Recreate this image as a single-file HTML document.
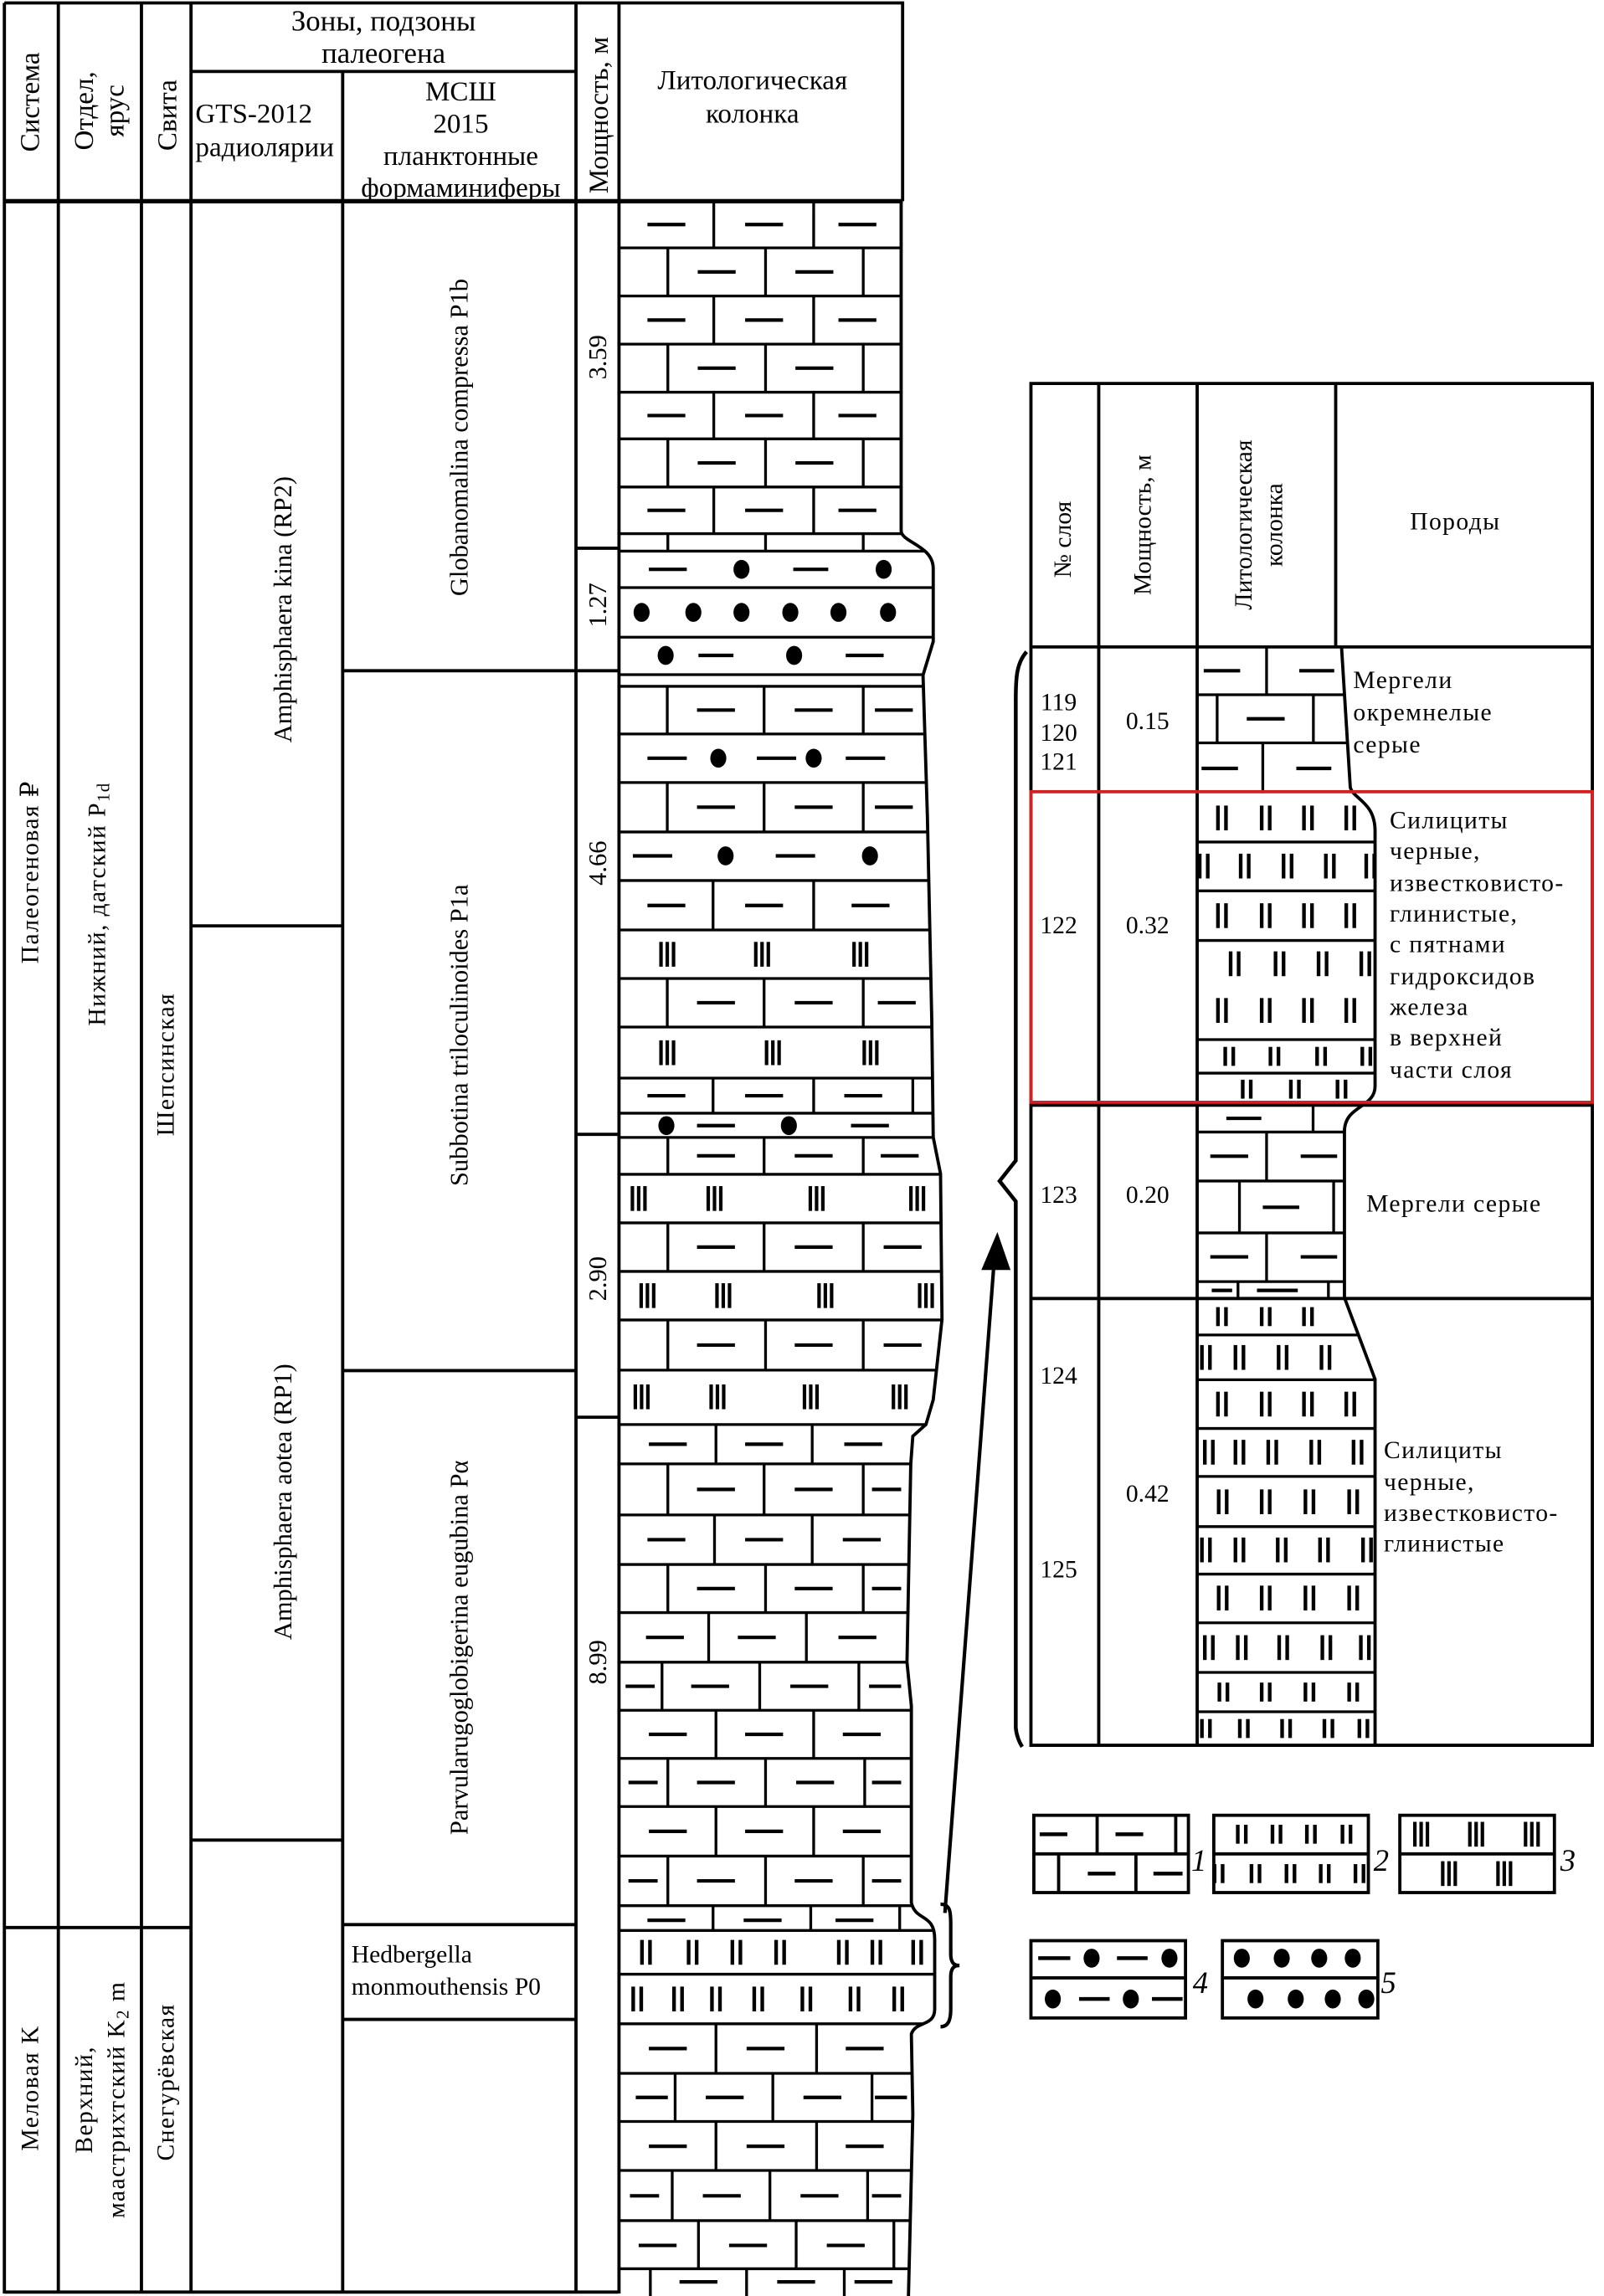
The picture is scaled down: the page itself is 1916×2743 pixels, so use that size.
<!DOCTYPE html>
<html><head><meta charset="utf-8"><style>
html,body{margin:0;padding:0;background:#fff}
svg{display:block}
text{font-family:"Liberation Serif","DejaVu Serif",serif;fill:#000}
.r{letter-spacing:0.8px}
</style></head><body>
<svg width="1916" height="2743" viewBox="0 0 1100 1574.7" preserveAspectRatio="none" xmlns="http://www.w3.org/2000/svg">
<defs>
<g id="m3"><rect x="-5.5" y="-8.5" width="2.4" height="17"/><rect x="-1.2" y="-8.5" width="2.4" height="17"/><rect x="3.1" y="-8.5" width="2.4" height="17"/></g>
<g id="m2"><rect x="-4" y="-8.5" width="2.5" height="17"/><rect x="1.5" y="-8.5" width="2.5" height="17"/></g>
<g id="m2s"><rect x="-4" y="-6.5" width="2.5" height="13"/><rect x="1.5" y="-6.5" width="2.5" height="13"/></g>
<ellipse id="dt" cx="0" cy="0" rx="5.5" ry="6.5"/>
<clipPath id="c1"><path d="M425 138 H618 V364 C618 372 640 374 640 390 V440 L633 463 L636 560 L639 700 L640 780 L645 805 L646 905 L640 960 L635 977 L626 985 L624.6 1004 L622 1140 L625 1170 L625 1305 C628 1318 641 1312 641 1330 V1378 C641 1390 628 1386 625 1395 L626 1450 L623 1575 H425 Z"/></clipPath>
<clipPath id="c2"><path d="M821 443.7 H920 L926 540 C928 548 943 550 943 570 V745 C943 760 922 758 922 776 V890 L943 946 V1197 H821 Z"/></clipPath>
</defs>

<g stroke="#000" stroke-width="2.2" fill="none">
<path d="M3 2H619V138M3 2V1573M40 2V1573M97 2V1573M131 2V1573M235 49V1573M395 2V1573M424.5 2V1573M131 49H395"/>
<path d="M3 138H619" stroke-width="3"/>
<path d="M131 635H235M131 1262H235M235 460H395M235 940H395M235 1320H395M235 1385H395M3 1322H131M395 376H424M395 460H424M395 778H424M395 972H424M3 1572H424"/>
</g>

<g font-size="19" text-anchor="middle">
<text transform="translate(21,70) rotate(-90)" dominant-baseline="central">Система</text>
<text transform="translate(58,76) rotate(-90)" dominant-baseline="central">Отдел,</text>
<text transform="translate(79,76) rotate(-90)" dominant-baseline="central">ярус</text>
<text transform="translate(115,79) rotate(-90)" dominant-baseline="central">Свита</text>
<text transform="translate(411,79) rotate(-90)" dominant-baseline="central">Мощность, м</text>
<text x="263" y="21" font-size="20">Зоны, подзоны</text>
<text x="263" y="43" font-size="20">палеогена</text>
<text x="316" y="69">МСШ</text>
<text x="316" y="91">2015</text>
<text x="316" y="113">планктонные</text>
<text x="316" y="135">формаминиферы</text>
<text x="516" y="61">Литологическая</text>
<text x="516" y="84">колонка</text>
</g>
<g font-size="19"><text x="134" y="84">GTS-2012</text><text x="134" y="107">радиолярии</text></g>

<g font-size="17" text-anchor="middle" class="r">
<text transform="translate(21,598) rotate(-90)" dominant-baseline="central">Палеогеновая ₽</text>
<text transform="translate(67,620) rotate(-90)" dominant-baseline="central">Нижний, датский P<tspan font-size="12" dy="4">1d</tspan></text>
<text transform="translate(114,730) rotate(-90)" dominant-baseline="central">Шепсинская</text>
<text transform="translate(21,1432) rotate(-90)" dominant-baseline="central">Меловая K</text>
<text transform="translate(58,1440) rotate(-90)" dominant-baseline="central">Верхний,</text>
<text transform="translate(80,1440) rotate(-90)" dominant-baseline="central">маастрихтский K<tspan font-size="12" dy="4">2</tspan><tspan dy="-4"> m</tspan></text>
<text transform="translate(114,1428) rotate(-90)" dominant-baseline="central">Снегурёвская</text>
</g>
<g font-size="17.5" text-anchor="middle">
<text transform="translate(194,418) rotate(-90)" dominant-baseline="central">Amphisphaera kina (RP2)</text>
<text transform="translate(194,1030) rotate(-90)" dominant-baseline="central">Amphisphaera aotea (RP1)</text>
<text transform="translate(315,300) rotate(-90)" dominant-baseline="central">Globanomalina compressa P1b</text>
<text transform="translate(315,710) rotate(-90)" dominant-baseline="central">Subbotina triloculinoides P1a</text>
<text transform="translate(315,1130) rotate(-90)" dominant-baseline="central">Parvularugoglobigerina eugubina Pα</text>
<text transform="translate(410,245) rotate(-90)" dominant-baseline="central">3.59</text>
<text transform="translate(410,415) rotate(-90)" dominant-baseline="central">1.27</text>
<text transform="translate(410,592) rotate(-90)" dominant-baseline="central">4.66</text>
<text transform="translate(410,877) rotate(-90)" dominant-baseline="central">2.90</text>
<text transform="translate(410,1140) rotate(-90)" dominant-baseline="central">8.99</text>
</g>
<g font-size="17"><text x="241" y="1346">Hedbergella</text><text x="241" y="1368">monmouthensis P0</text></g>

<g clip-path="url(#c1)">
<g stroke="#000" stroke-width="1.9" fill="none">
<path d="M425 170H660M425 203H660M425 236H660M425 269H660M425 301H660M425 334H660M425 366H660M425 378H660M425 403H660M425 437H660M425 462.7H660M425 470.7H660M425 503.4H660M425 536.7H660M425 570.6H660M425 603.9H660M425 637.8H660M425 671.1H660M425 704.4H660M425 739.4H660M425 763.5H660M425 780.1H660M425 805.4H660M425 838.7H660M425 872H660M425 905.3H660M425 939.7H660M425 977H660M425 1004H660M425 1039H660M425 1073H660M425 1106H660M425 1140H660M425 1173H660M425 1206H660M425 1239H660M425 1273H660M425 1307H660M425 1324H660M425 1354H660M425 1388H660M425 1422H660M425 1455H660M425 1488.6H660M425 1523H660M425 1556H660"/>
<path d="M489.5 138V170M558 138V170M458 170V203M525 170V203M592 170V203M489.5 203V236M558 203V236M458 236V269M525 236V269M592 236V269M489.5 269V301M558 269V301M458 301V334M525 301V334M592 301V334M489.5 334V366M558 334V366M458 366V378M525 366V378M592 366V378
M457.6 470.7V503.4M524 470.7V503.4M592 470.7V503.4M457.6 536.7V570.6M524 536.7V570.6M592 536.7V570.6M489 603.9V637.8M558 603.9V637.8M457.6 671.1V704.4M524 671.1V704.4M592 671.1V704.4M489 739.4V763.5M558 739.4V763.5M626 739.4V763.5M458 780.1V805.4M524 780.1V805.4M592 780.1V805.4M458 838.7V872M524 838.7V872M592 838.7V872M458 905.3V939.7M525 905.3V939.7M592 905.3V939.7
M491 977V1004M557 977V1004M458 1004V1039M524 1004V1039M592 1004V1039M490 1039V1073M557 1039V1073M458 1073V1106M525 1073V1106M592 1073V1106M486 1106V1140M553 1106V1140M454 1140V1173M521 1140V1173M589 1140V1173M491 1173V1206M558 1173V1206M458 1206V1239M525 1206V1239M593 1206V1239M491 1239V1273M558 1239V1273M458 1273V1307M525 1273V1307M592 1273V1307M489 1307V1324M556 1307V1324M617 1307V1324
M491 1388V1422M560 1388V1422M463 1422V1455M530 1422V1455M598 1422V1455M491 1455V1488.6M560 1455V1488.6M461 1488.6V1523M528 1488.6V1523M595 1488.6V1523M479 1523V1556M546 1523V1556M613 1523V1556M446 1556V1575M512 1556V1575M579 1556V1575"/>
</g>
<path stroke="#000" stroke-width="2.4" fill="none" d="M444 154h26M511 154h26M575 154h26M478.5 186.5h26M545.5 186.5h26M444 219.5h26M511 219.5h26M575 219.5h26M478.5 252.5h26M545.5 252.5h26M444 285h26M511 285h26M575 285h26M478.5 317.5h26M545.5 317.5h26M444 350h26M511 350h26M575 350h26
M445 390.5h26M544 390.5h24M479 449.5h24M580 449.5h26
M478 487h26M545 487h26M600 487h26M444 520h27M519 520h27M580 520h27M478 553.6h26M545 553.6h26M600 553.6h26M434 587h27M532 587h27M444 621h26M511 621h26M584 621h26M478 687.7h26M545 687.7h26M602 687.7h26M444 751.5h26M511 751.5h26M579 751.5h26M478 772h26M583.6 772h26M478 792.7h26M545 792.7h26M604 792.7h26M478 855.3h26M545 855.3h26M606 855.3h26M478 922.5h26M545 922.5h26M606 922.5h26
M445 990.5h26M511 990.5h26M579 990.5h26M478 1021.5h26M545 1021.5h26M598 1021.5h20M444 1056h26M511 1056h26M578 1056h26M478 1089.5h26M545 1089.5h26M598 1089.5h20M443 1123h26M506 1123h26M575 1123h26M429 1156.5h20M474 1156.5h26M542 1156.5h26M596 1156.5h22M445 1189.5h26M511 1189.5h26M578 1189.5h26M431 1222.5h20M478 1222.5h26M546 1222.5h26M598 1222.5h20M445 1256h26M511 1256h26M578 1256h26M431 1290h20M478 1290h26M545 1290h26M598 1290h20M444 1317h26M510 1317h26M573 1317h26
M445 1405h26M512 1405h26M580 1405h26M436 1438.5h22M484 1438.5h26M551 1438.5h26M600 1438.5h22M445 1472h26M512 1472h26M580 1472h26M432 1506h20M482 1506h26M549 1506h26M598 1506h20M438 1540h26M500 1540h26M567 1540h26M466 1565h26M533 1565h26M586 1565h26"/>
<use href="#dt" x="508.5" y="390.5"/><use href="#dt" x="606" y="390.5"/>
<use href="#dt" x="440" y="420"/><use href="#dt" x="475.5" y="420"/><use href="#dt" x="508.5" y="420"/><use href="#dt" x="542" y="420"/><use href="#dt" x="575" y="420"/><use href="#dt" x="609" y="420"/>
<use href="#dt" x="456.5" y="449.5"/><use href="#dt" x="544.6" y="449.5"/>
<use href="#dt" x="492.6" y="520"/><use href="#dt" x="558" y="520"/>
<use href="#dt" x="497.6" y="587"/><use href="#dt" x="596.6" y="587"/>
<use href="#dt" x="457" y="772"/><use href="#dt" x="541" y="772"/>
<use href="#m3" x="457.6" y="654.5"/><use href="#m3" x="522.6" y="654.5"/><use href="#m3" x="590" y="654.5"/>
<use href="#m3" x="457.6" y="722"/><use href="#m3" x="530" y="722"/><use href="#m3" x="597" y="722"/>
<use href="#m3" x="438" y="822"/><use href="#m3" x="490" y="822"/><use href="#m3" x="560" y="822"/><use href="#m3" x="629" y="822"/>
<use href="#m3" x="444" y="888.6"/><use href="#m3" x="496" y="888.6"/><use href="#m3" x="566" y="888.6"/><use href="#m3" x="635" y="888.6"/>
<use href="#m3" x="440" y="958"/><use href="#m3" x="492" y="958"/><use href="#m3" x="556" y="958"/><use href="#m3" x="617" y="958"/>
<use href="#m2" x="443" y="1339"/><use href="#m2" x="475" y="1339"/><use href="#m2" x="505" y="1339"/><use href="#m2" x="535" y="1339"/><use href="#m2" x="578" y="1339"/><use href="#m2" x="601" y="1339"/><use href="#m2" x="629" y="1339"/>
<use href="#m2" x="437" y="1371"/><use href="#m2" x="465" y="1371"/><use href="#m2" x="491" y="1371"/><use href="#m2" x="520" y="1371"/><use href="#m2" x="553" y="1371"/><use href="#m2" x="586" y="1371"/><use href="#m2" x="616" y="1371"/>
</g>
<path fill="none" stroke="#000" stroke-width="2.2" d="M618 138 V364 C618 372 640 374 640 390 V440 L633 463 L636 560 L639 700 L640 780 L645 805 L646 905 L640 960 L635 977 L626 985 L624.6 1004 L622 1140 L625 1170 L625 1305 C628 1318 641 1312 641 1330 V1378 C641 1390 628 1386 625 1395 L626 1450 L623 1575"/>
<path fill="none" stroke="#000" stroke-width="2.4" d="M645 1306 C652 1306 652 1312 652 1320 V1340 C652 1346 654 1348 658 1348 C654 1348 652 1350 652 1356 V1378 C652 1386 650 1390 645 1390"/>
<path stroke="#000" stroke-width="2.4" fill="none" d="M648 1312 L682 862"/>
<polygon points="684,845 673,871 693,871" fill="#000"/>
<path fill="none" stroke="#000" stroke-width="2.6" d="M704 447 C697 455 696.6 465 696.6 480 V796 L685.5 810 L696.6 824 V1185 C697 1190 699 1195 701 1198"/>

<g stroke="#000" stroke-width="2.2" fill="none">
<path d="M707 263H1092V1197H707ZM753.5 263V1197M821 263V1197M916 263V443.7M707 443.7H1092M707 758H1092M707 890.6H1092"/>
</g>
<g clip-path="url(#c2)">
<path stroke="#000" stroke-width="1.9" fill="none" d="M821 476.5H960M821 509.5H960M821 577.5H960M821 611H960M821 645H960M821 713H960M821 736H960M821 776.4H960M821 810H960M821 845.6H960M821 879H960M821 915.6H960M821 946.3H960M821 979.7H960M821 1012.6H960M821 1047H960M821 1079.6H960M821 1113H960M821 1147H960M821 1174H960
M868.6 443.7V476.5M834.7 476.5V509.5M900.7 476.5V509.5M866 509.5V544M900.5 758V776.4M868.6 776.4V810M850 810V845.6M914.6 810V845.6M868.6 845.6V879M849 879V890.6M911 879V890.6"/>
<path stroke="#000" stroke-width="2.4" fill="none" d="M825.5 460h25M891 460h24M855 493h26M824 527h25M889 527h24M841 767h24M830 793h26M892 793h25M866 828h25M830 862h26M892 862h25M831 885h14M862 885h28"/>
<use href="#m2" x="838" y="561"/><use href="#m2" x="868" y="561"/><use href="#m2" x="897" y="561"/><use href="#m2" x="926" y="561"/>
<use href="#m2" x="825.5" y="594"/><use href="#m2" x="853.6" y="594"/><use href="#m2" x="883" y="594"/><use href="#m2" x="912" y="594"/><use href="#m2" x="939.7" y="594"/>
<use href="#m2" x="838" y="628"/><use href="#m2" x="868" y="628"/><use href="#m2" x="897" y="628"/><use href="#m2" x="926" y="628"/>
<use href="#m2" x="846.7" y="661"/><use href="#m2" x="877.5" y="661"/><use href="#m2" x="907" y="661"/><use href="#m2" x="936.3" y="661"/>
<use href="#m2" x="838" y="693"/><use href="#m2" x="868" y="693"/><use href="#m2" x="897" y="693"/><use href="#m2" x="926" y="693"/>
<use href="#m2s" x="843" y="724.5"/><use href="#m2s" x="874" y="724.5"/><use href="#m2s" x="906" y="724.5"/><use href="#m2s" x="937" y="724.5"/>
<use href="#m2s" x="855" y="747"/><use href="#m2s" x="888" y="747"/><use href="#m2s" x="920" y="747"/>
<use href="#m2s" x="838" y="903"/><use href="#m2s" x="868" y="903"/><use href="#m2s" x="897" y="903"/>
<use href="#m2" x="827" y="931"/><use href="#m2" x="850" y="931"/><use href="#m2" x="879.6" y="931"/><use href="#m2" x="909" y="931"/>
<use href="#m2" x="838" y="963"/><use href="#m2" x="868" y="963"/><use href="#m2" x="897" y="963"/><use href="#m2" x="926" y="963"/>
<use href="#m2" x="829" y="996"/><use href="#m2" x="850" y="996"/><use href="#m2" x="872.5" y="996"/><use href="#m2" x="902" y="996"/><use href="#m2" x="931" y="996"/>
<use href="#m2" x="838.5" y="1030"/><use href="#m2" x="868" y="1030"/><use href="#m2" x="898" y="1030"/><use href="#m2" x="928" y="1030"/>
<use href="#m2" x="827" y="1063"/><use href="#m2" x="850" y="1063"/><use href="#m2" x="879" y="1063"/><use href="#m2" x="908" y="1063"/><use href="#m2" x="937.5" y="1063"/>
<use href="#m2" x="838.5" y="1096"/><use href="#m2" x="868" y="1096"/><use href="#m2" x="898" y="1096"/><use href="#m2" x="928" y="1096"/>
<use href="#m2" x="829" y="1130"/><use href="#m2" x="851.6" y="1130"/><use href="#m2" x="880" y="1130"/><use href="#m2" x="909.6" y="1130"/><use href="#m2" x="936" y="1130"/>
<use href="#m2s" x="839" y="1160.5"/><use href="#m2s" x="868" y="1160.5"/><use href="#m2s" x="898" y="1160.5"/><use href="#m2s" x="928" y="1160.5"/>
<use href="#m2s" x="827" y="1185.5"/><use href="#m2s" x="853" y="1185.5"/><use href="#m2s" x="882" y="1185.5"/><use href="#m2s" x="911" y="1185.5"/><use href="#m2s" x="935" y="1185.5"/>
</g>
<path fill="none" stroke="#000" stroke-width="2.2" d="M920 443.7 L926 540 C928 548 943 550 943 570 V745 C943 760 922 758 922 776 V890 L943 946 V1197"/>
<rect x="707" y="543" width="385" height="213" fill="none" stroke="#d42020" stroke-width="2.2"/>

<g font-size="17" text-anchor="middle">
<text transform="translate(729,370) rotate(-90)" dominant-baseline="central">№ слоя</text>
<text transform="translate(784,360) rotate(-90)" dominant-baseline="central">Мощность, м</text>
<text transform="translate(853,360) rotate(-90)" dominant-baseline="central">Литологическая</text>
<text transform="translate(874,360) rotate(-90)" dominant-baseline="central">колонка</text>
<text x="998" y="363" class="r">Породы</text>
<text x="726" y="487">119</text><text x="726" y="508">120</text><text x="726" y="528">121</text>
<text x="787" y="500">0.15</text>
<text x="726" y="640">122</text><text x="787" y="640">0.32</text>
<text x="726" y="825">123</text><text x="787" y="825">0.20</text>
<text x="726" y="949">124</text><text x="787" y="1030">0.42</text><text x="726" y="1082">125</text>
</g>
<g font-size="17" class="r">
<text x="928" y="472">Мергели</text><text x="928" y="494">окремнелые</text><text x="928" y="516">серые</text>
<text x="953" y="568">Силициты</text><text x="953" y="589">черные,</text><text x="953" y="611">известковисто-</text><text x="953" y="632">глинистые,</text><text x="953" y="653">с пятнами</text><text x="953" y="675">гидроксидов</text><text x="953" y="696">железа</text><text x="953" y="717">в верхней</text><text x="953" y="739">части слоя</text>
<text x="937" y="831">Мергели серые</text>
<text x="949" y="1000">Силициты</text><text x="949" y="1022">черные,</text><text x="949" y="1043">известковисто-</text><text x="949" y="1064">глинистые</text>
</g>

<g stroke="#000" stroke-width="2.2" fill="none">
<rect x="709" y="1245" width="106" height="53"/><path d="M709 1271.5H815M752.4 1245V1271.5M806.3 1245V1271.5M726 1271.5V1298M779 1271.5V1298"/>
<rect x="832.4" y="1245" width="106" height="53"/><path d="M832.4 1271.5H938.6"/>
<rect x="960" y="1245" width="106" height="53"/><path d="M960 1271.5H1066"/>
<rect x="707" y="1331" width="106" height="53"/><path d="M707 1356.5H813"/>
<rect x="838.3" y="1331" width="106.6" height="53"/><path d="M838.3 1356.5H945"/>
</g>
<path stroke="#000" stroke-width="2.6" fill="none" d="M713 1258h19M765 1258h19M746 1285h19M791 1285h20M712 1343h22M766 1343h21M740 1371h21M790 1371h21"/>
<use href="#m2s" x="851.6" y="1258"/><use href="#m2s" x="875.4" y="1258"/><use href="#m2s" x="899" y="1258"/><use href="#m2s" x="923.4" y="1258"/>
<use href="#m2s" x="835.7" y="1285"/><use href="#m2s" x="861" y="1285"/><use href="#m2s" x="885" y="1285"/><use href="#m2s" x="908.5" y="1285"/><use href="#m2s" x="932.3" y="1285"/>
<use href="#m3" x="974.6" y="1258"/><use href="#m3" x="1012.3" y="1258"/><use href="#m3" x="1050.5" y="1258"/>
<use href="#m3" x="993.7" y="1285"/><use href="#m3" x="1031.6" y="1285"/>
<use href="#dt" x="748.6" y="1343"/><use href="#dt" x="802" y="1343"/><use href="#dt" x="722" y="1371"/><use href="#dt" x="775.5" y="1371"/>
<use href="#dt" x="851.6" y="1343"/><use href="#dt" x="879" y="1343"/><use href="#dt" x="904.7" y="1343"/><use href="#dt" x="927.7" y="1343"/>
<use href="#dt" x="861" y="1371"/><use href="#dt" x="888.6" y="1371"/><use href="#dt" x="914" y="1371"/><use href="#dt" x="937" y="1371"/>
<g font-size="21" font-style="italic">
<text x="817" y="1283">1</text><text x="942" y="1283">2</text><text x="1070" y="1283">3</text>
<text x="818" y="1367">4</text><text x="947" y="1367">5</text>
</g>
</svg>
</body></html>
